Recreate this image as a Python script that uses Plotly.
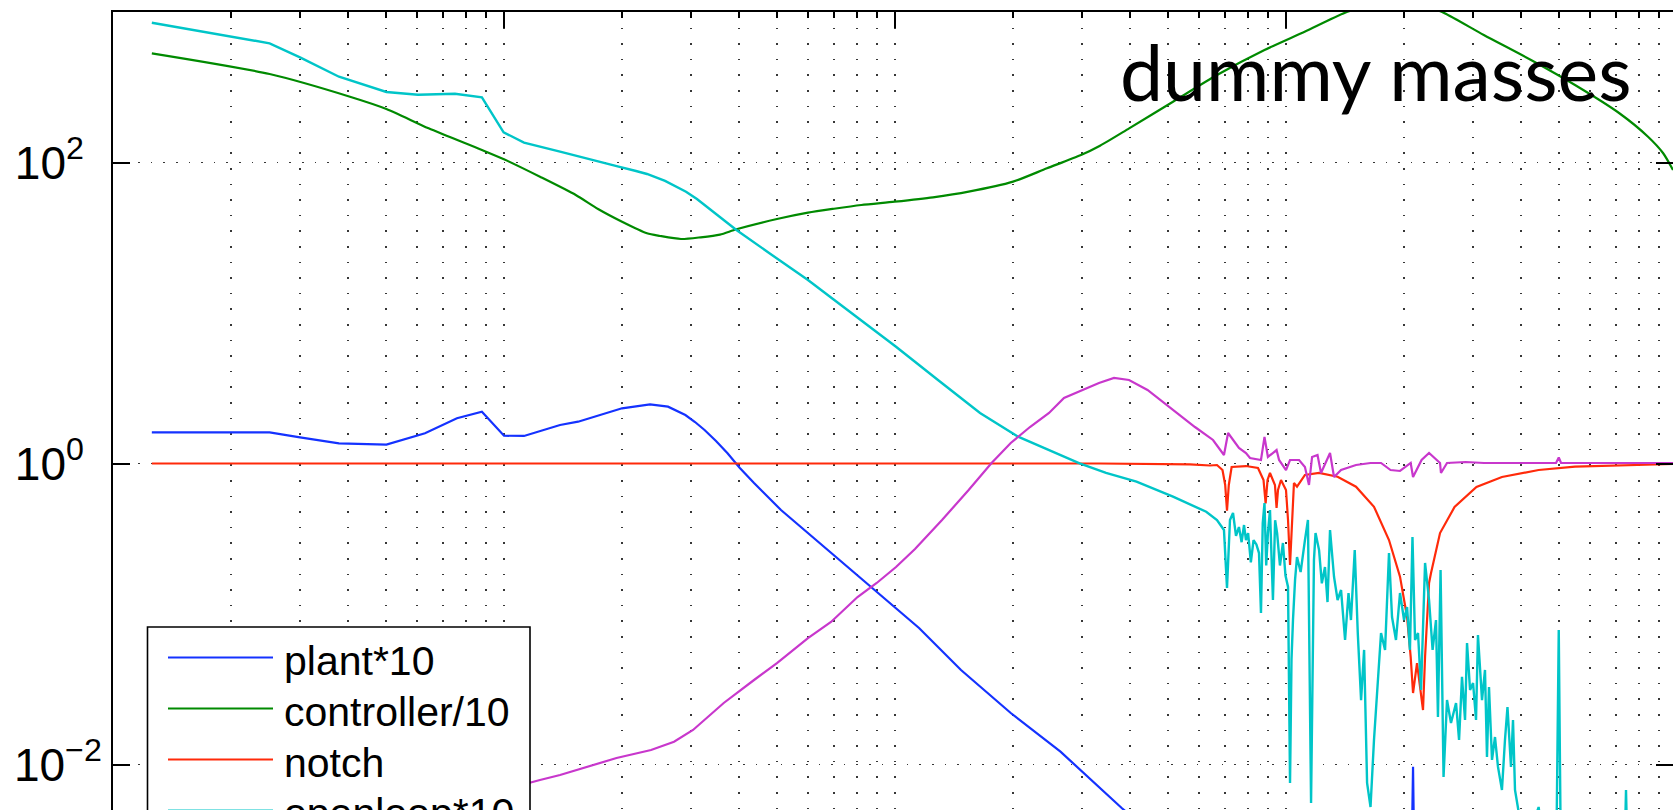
import plotly.graph_objects as go

# ---------------- measured transfer-function magnitudes ----------------
# frequency [Hz] and magnitude for each trace

plant_f = [0.1257, 0.2515, 0.3008, 0.3784, 0.5003, 0.628, 0.758, 0.878, 1.0, 1.125,
           1.391, 1.547, 2.004, 2.363, 2.627, 2.91, 3.08, 3.258, 3.485, 3.73, 4.01,
           4.36, 5.11, 5.99, 6.70, 8.78, 11.52, 14.75, 19.77, 26.5, 31.7, 38.0, 60.0,
           150.0, 207.0, 211.3, 215.0, 600.0, 1000.0]
plant_mag = [1.612, 1.61, 1.493, 1.362, 1.334, 1.588, 1.997, 2.21, 1.53, 1.524,
             1.803, 1.896, 2.327, 2.474, 2.385, 2.10, 1.887, 1.67, 1.411, 1.169, 0.933,
             0.742, 0.491, 0.345, 0.270, 0.1489, 0.0807, 0.04246, 0.02199, 0.01217,
             0.00789, 0.00514, 0.00188, 0.00025, 0.0003, 0.00967, 0.0003, 0.0001, 0.00004]

ctrl_f = [0.1257, 0.2515, 0.4037, 0.5003, 0.6415, 0.878, 1.0, 1.236, 1.526, 1.74, 2.004,
          2.321, 2.506, 2.836, 3.185, 3.567, 3.93, 4.99, 5.99, 6.98, 8.20, 9.98, 12.51,
          15.43, 20.04, 24.47, 29.9, 33.44, 39.7, 51.4, 66.6, 88.1, 111.6, 141.6, 164.0,
          188.9, 220.2, 252.9, 320.6, 423.3, 548.4, 710.8, 843.1, 920.9, 976.8]
ctrl_mag = [531.6, 387.3, 273.6, 226.8, 168.7, 121.1, 105.0, 80.4, 60.8, 49.1, 40.4,
            33.85, 32.5, 31.02, 31.84, 33.2, 35.98, 42.1, 46.4, 49.3, 52.2, 54.9, 58.7,
            64.0, 74.6, 91.5, 112.1, 129.3, 168.7, 253.5, 381.5, 559.2, 739.8, 989.0,
            1113.0, 1200.0, 1130.0, 989.0, 703.5, 479.8, 327.3, 213.3, 148.4, 115.6, 89.2]

notch_f = [0.1257, 33.44, 56.8, 63.9, 66.6, 68.8, 69.9, 70.65, 71.4, 72.6, 79.0, 84.8,
           87.6, 88.7, 89.7, 91.0, 93.7, 94.6, 95.4, 97.1, 100.0, 101.2, 102.4, 103.6,
           104.8, 106.7, 111.8, 121.5, 135.5, 151.0, 167.9, 183.4, 195.7, 204.0, 208.4,
           211.3, 216.3, 224.1, 226.8, 232.2, 234.9, 247.7, 269.8, 307.0, 356.7, 442.6,
           548.4, 976.8]
notch_mag = [1.0, 1.0, 0.988, 0.970, 0.977, 0.905, 0.72, 0.486, 0.72, 0.948, 0.962, 0.933,
             0.777, 0.544, 0.777, 0.865, 0.72, 0.506, 0.667, 0.777, 0.667, 0.4213, 0.2117,
             0.4213, 0.742, 0.701, 0.839, 0.865, 0.817, 0.701, 0.516, 0.310, 0.177, 0.0955,
             0.0518, 0.02986, 0.0472, 0.0230, 0.0518, 0.1607, 0.1872, 0.345, 0.514, 0.698,
             0.813, 0.905, 0.952, 0.992]

openloop_f = [0.1257, 0.2515, 0.3008, 0.3784, 0.5003, 0.6026, 0.7491, 0.878, 0.9977,
              1.125, 1.391, 1.66, 1.964, 2.176, 2.321, 2.582, 2.921, 3.115, 3.325, 3.614,
              3.93, 4.845, 5.99, 6.94, 8.38, 10.06, 12.88, 16.50, 20.64, 25.9, 29.66,
              34.65, 41.46, 51.4, 62.5, 66.6, 69.4, 70.65, 71.9, 73.2, 74.5, 75.8, 77.0,
              78.1, 79.0, 80.0, 81.3, 82.6, 84.0, 85.3, 86.3, 87.2, 88.1, 89.0, 89.9, 91.0,
              92.6, 93.8, 94.9, 96.5, 98.2, 99.7, 101.2, 102.4, 103.3, 104.2, 105.5,
              106.7, 109.0, 111.8, 113.8, 115.9, 117.9, 119.0, 121.5, 123.5, 125.8, 127.7,
              129.6, 132.7, 135.5, 138.3, 141.6, 144.5, 146.6, 149.9, 152.6, 155.6, 158.4,
              161.2, 164.5, 167.9, 171.9, 175.0, 179.2, 183.4, 186.7, 191.1, 195.7, 200.4,
              204.0, 207.5, 210.6, 213.8, 217.6, 221.5, 226.8, 232.2, 237.1, 241.9, 244.7,
              248.5, 252.9, 258.1, 264.2, 272.2, 277.1, 281.9, 287.0, 290.4, 295.6, 300.9,
              306.2, 309.7, 317.2, 322.8, 326.6, 330.5, 336.4, 342.4, 348.5, 356.7, 363.1,
              368.5, 376.2, 380.7, 385.2, 393.2, 408.6, 442.7, 459.6, 490.5, 498.4, 505.2,
              635.3, 731.9, 740.6, 749.3, 976.8]
openloop_mag = [849.0, 619.4, 500.0, 371.6, 294.1, 282.2, 286.5, 271.2, 158.8,
                135.4, 118.0, 105.5, 93.8, 87.8, 83.9, 75.4, 64.0, 57.2, 49.87, 42.1,
                35.6, 24.29, 16.57, 12.39, 8.58, 5.97, 3.588, 2.165, 1.507, 1.174, 1.003,
                0.865, 0.757, 0.602, 0.478, 0.4213, 0.3614, 0.1489, 0.4213, 0.469, 0.33,
                0.3785, 0.30, 0.390, 0.31, 0.345, 0.22, 0.310, 0.29, 0.254, 0.1016, 0.40,
                0.5465, 0.21, 0.345, 0.491, 0.1239, 0.42, 0.345, 0.21, 0.2963, 0.18, 0.1512,
                0.00754, 0.05, 0.0912, 0.17, 0.2392, 0.19, 0.310, 0.4213, 0.00555, 0.2285,
                0.345, 0.266, 0.16, 0.2053, 0.12, 0.3614, 0.1762, 0.1239, 0.1444, 0.0672,
                0.1379, 0.0912, 0.266, 0.0748, 0.0268, 0.0577, 0.00754, 0.00522, 0.01455,
                0.0348, 0.0748, 0.0577, 0.254, 0.0955, 0.0672, 0.1379, 0.0912, 0.1113,
                0.0577, 0.3247, 0.0672, 0.0748, 0.0313, 0.2183, 0.1239, 0.0577, 0.0912,
                0.0207, 0.196, 0.00826, 0.0268, 0.01887, 0.02563, 0.01455, 0.0382, 0.01976,
                0.0642, 0.0313, 0.0348, 0.01976, 0.0725, 0.0268, 0.04246, 0.01121, 0.0327,
                0.01072, 0.01523, 0.00963, 0.00677, 0.01455, 0.0241, 0.00963, 0.01976,
                0.00677, 0.00483, 0.0027, 0.00522, 0.00232, 0.00171, 0.0783, 0.00171,
                0.00126, 0.00171, 0.00677, 0.00171, 0.00126]

closed_f = [0.1257, 0.5003, 1.165, 1.236, 1.391, 1.940, 2.377, 2.722, 3.044, 3.647, 4.36,
            4.99, 5.99, 6.86, 8.02, 8.98, 10.06, 11.25, 13.19, 15.43, 17.66, 19.77, 22.14,
            24.77, 27.05, 30.26, 33.24, 36.32, 39.68, 44.24, 51.4, 58.5, 65.06, 69.4, 71.1,
            73.2, 75.8, 79.0, 80.9, 86.3, 88.1, 89.9, 94.6, 96.0, 100.0, 102.4, 108.0,
            111.8, 114.5, 116.6, 120.4, 122.9, 129.6, 132.7, 138.3, 151.0, 164.5, 175.0,
            185.1, 195.7, 208.4, 211.3, 222.2, 232.2, 247.7, 249.1, 258.1, 287.9, 320.9,
            396.8, 490.5, 498.4, 505.2, 976.8]
closed_mag = [0.0016, 0.0042, 0.00765, 0.00789, 0.00852, 0.01104, 0.01248, 0.01418,
              0.01696, 0.02563, 0.03643, 0.0472, 0.0692, 0.0885, 0.1297, 0.1607, 0.2053,
              0.2704, 0.4213, 0.6668, 1.008, 1.368, 1.748, 2.165, 2.724, 3.079, 3.427,
              3.70, 3.588, 3.079, 2.267, 1.748, 1.433, 1.139, 1.595, 1.433, 1.268, 1.174,
              1.088, 1.055, 1.50, 1.105, 1.229, 1.055, 0.905, 1.055, 1.055, 0.948, 0.72,
              1.105, 1.139, 0.865, 1.174, 0.813, 0.905, 0.977, 1.008, 1.008, 0.905, 0.892,
              1.008, 0.813, 1.055, 1.174, 1.008, 0.865, 1.008, 1.023, 1.008, 1.008, 1.008,
              1.096, 1.008, 1.008]

series_names = ["plant*10", "controller/10", "notch", "openloop*10", "closedloop"]
series_colors = ["#1432ff", "#008a00", "#ff2a0a", "#00c5c8", "#c837cc"]
series_widths = [2.2, 2.2, 2.2, 2.4, 2.2]
series_shapes = ["linear", "spline", "linear", "linear", "linear"]

# axis ticks (figure space pads the short exponents so the bases line up)
y_tickvals = [1e-2, 1.0, 1e2]
y_ticktext = ["10<sup>\u22122</sup>", "10<sup>0\u2007</sup>", "10<sup>2\u2007</sup>"]
x_decades = [0.1, 1.0, 10.0, 100.0, 1000.0]
x_minor = [m * d for d in [0.1, 1.0, 10.0, 100.0] for m in range(2, 10)]

title_text = "dummy masses"

# ---------------- figure geometry (pixels) ----------------
W, H = 1673, 810
L, T = 113, 12
PX_PER_DECADE_X = 391.0
PX_PER_DECADE_Y = 150.5
x_lo = -1.0
x_hi = x_lo + (W - L) / PX_PER_DECADE_X
y_hi = 3.0
y_lo = y_hi - (H - T) / PX_PER_DECADE_Y


def px(xpix):
    return (xpix - L) / (W - L)


def py(ypix):
    return (H - ypix) / (H - T)


fig = go.Figure()
series = [(plant_f, plant_mag), (ctrl_f, ctrl_mag), (notch_f, notch_mag),
          (openloop_f, openloop_mag), (closed_f, closed_mag)]
for (f, m), name, col, lw, shp in zip(series, series_names, series_colors,
                                      series_widths, series_shapes):
    line = dict(color=col, width=lw, shape=shp)
    if shp == "spline":
        line["smoothing"] = 0.7
    fig.add_trace(go.Scatter(x=f, y=m, mode="lines", name=name, line=line,
                             showlegend=False, hoverinfo="skip"))

grid_col = "rgba(20,20,20,0.85)"
label_font = dict(family="Liberation Sans, Arial, sans-serif", size=46, color="black")
fig.update_xaxes(
    type="log", range=[x_lo, x_hi], side="top",
    showline=True, linecolor="black", linewidth=1.8, mirror=False,
    ticks="inside", ticklen=16, tickwidth=1.6, tickcolor="black",
    tickvals=x_decades, showticklabels=False,
    showgrid=True, gridcolor=grid_col, gridwidth=1.6, griddash="1.6px,14px",
    minor=dict(tickvals=x_minor, ticks="inside", ticklen=6, tickwidth=1.5,
               tickcolor="black", showgrid=True, gridcolor=grid_col,
               gridwidth=1.6, griddash="1.6px,14px"),
    zeroline=False,
)
fig.update_yaxes(
    type="log", range=[y_lo, y_hi],
    showline=True, linecolor="black", linewidth=2, mirror="ticks",
    ticks="inside", ticklen=17, tickwidth=1.5, tickcolor="black",
    tickvals=y_tickvals, ticktext=y_ticktext, ticklabelstandoff=0,
    tickfont=label_font,
    showgrid=True, gridcolor=grid_col, gridwidth=1.4, griddash="1.6px,11px",
    zeroline=False,
)

# ---------------- legend box ----------------
shapes = []
annotations = []
box_l, box_r, box_t = 147.5, 530, 627
row0, row_step = 657.5, 51
shapes.append(dict(type="rect", xref="paper", yref="paper", layer="above",
                   x0=px(box_l), x1=px(box_r), y0=py(box_t + 5 * row_step + 30), y1=py(box_t),
                   fillcolor="white", line=dict(color="black", width=1.6)))
for i, (name, col) in enumerate(zip(series_names, series_colors)):
    yl = row0 + i * row_step
    shapes.append(dict(type="line", xref="paper", yref="paper", layer="above",
                       x0=px(168), x1=px(273), y0=py(yl), y1=py(yl),
                       line=dict(color=col, width=2.0)))
    annotations.append(dict(text=name, xref="paper", yref="paper",
                            x=px(282), y=py(yl + 3), xanchor="left", yanchor="middle",
                            showarrow=False,
                            font=dict(family="Liberation Sans, Arial, sans-serif",
                                      size=41, color="black")))

annotations.append(dict(text=title_text, xref="paper", yref="paper",
                        x=px(1118), y=py(71), xanchor="left", yanchor="middle",
                        showarrow=False,
                        font=dict(family="Lato, sans-serif", size=77, color="black")))

fig.update_layout(
    width=W, height=H,
    margin=dict(l=L, r=0, t=T, b=0, pad=0, autoexpand=False),
    paper_bgcolor="white", plot_bgcolor="white",
    shapes=shapes, annotations=annotations,
    showlegend=False,
)

fig.write_html("out.html")
